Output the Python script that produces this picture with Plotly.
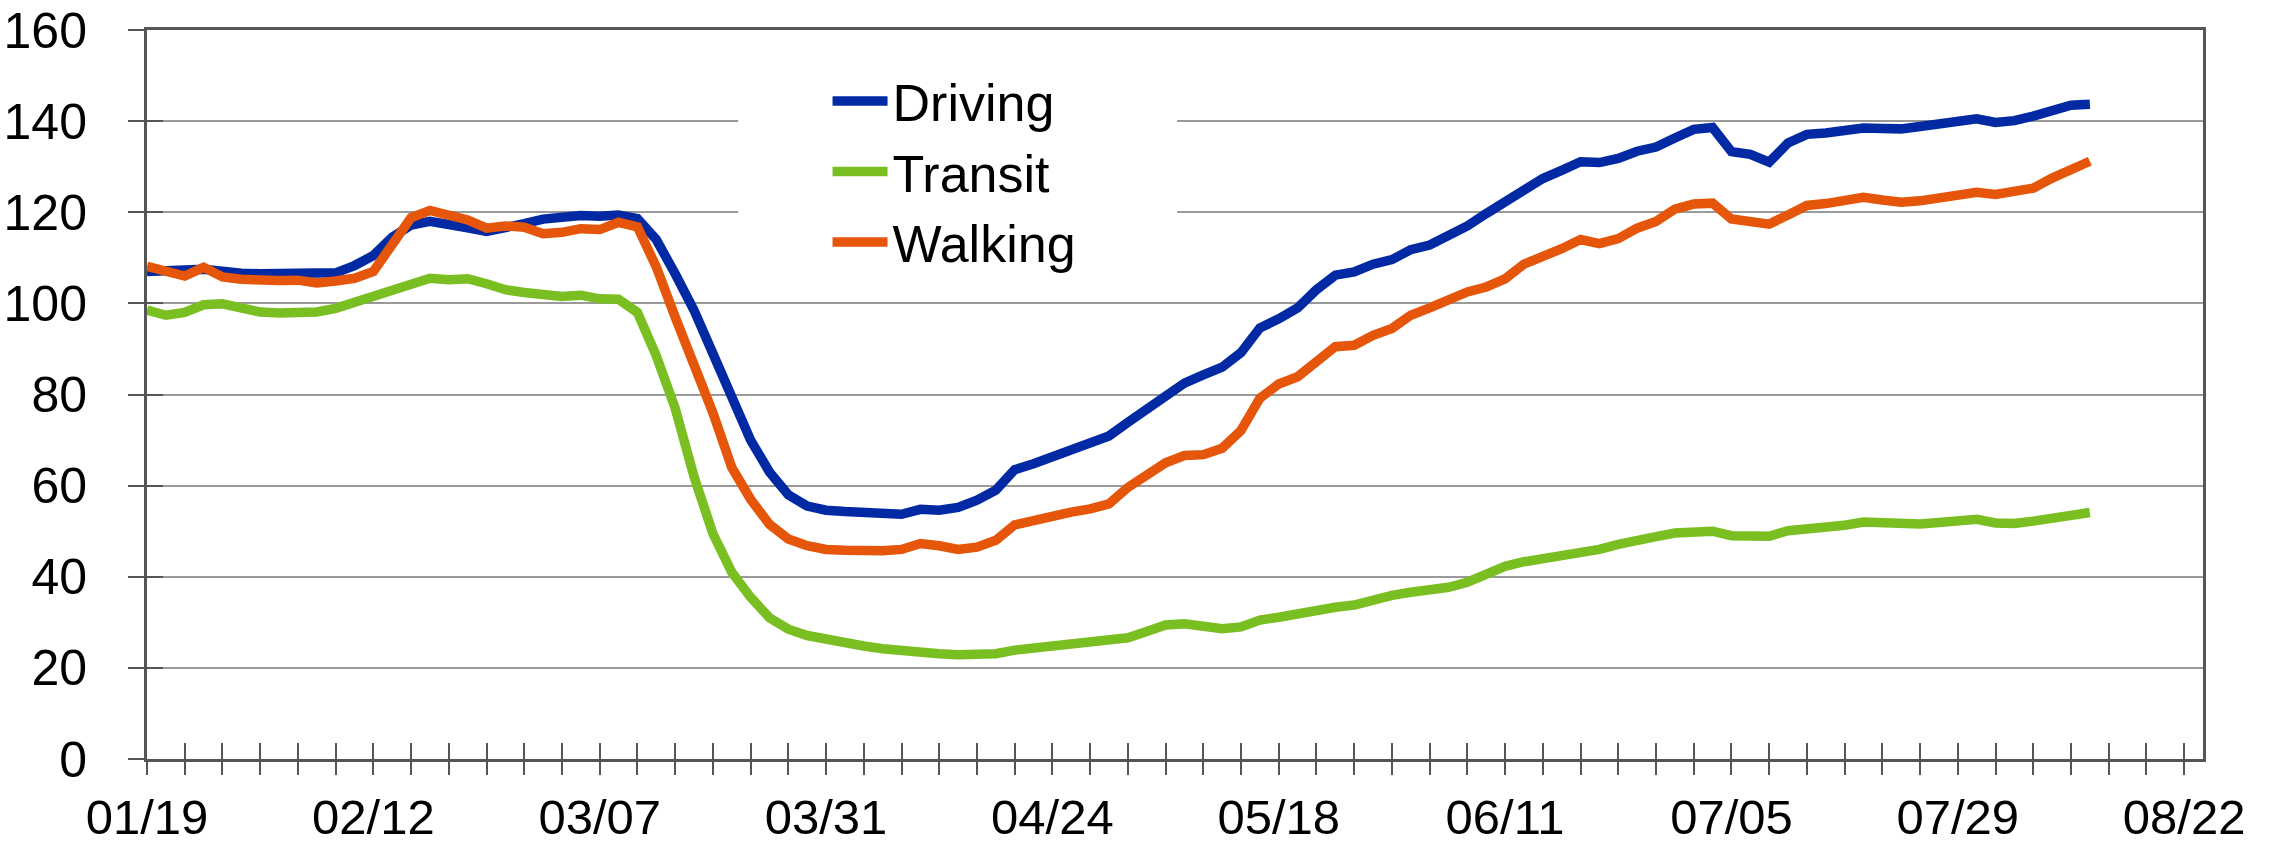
import pandas as pd
import plotly.graph_objects as go

# Every second day from 2020-01-19 to 2020-08-12 (104 readings)
start_date = "2020-01-19"
step = "2D"

driving = [
    107.0, 107.4, 107.3, 107.5, 106.8, 106.6, 106.5, 106.6, 106.6, 106.3,
    106.7, 108.3, 110.5, 114.5, 117.2, 118.0, 117.5, 116.6, 115.8, 116.5,
    117.5, 118.5, 119.0, 119.3, 119.1, 119.4, 118.6, 114.0, 106.5, 98.5,
    89.0, 79.5, 70.0, 63.0, 58.0, 55.5, 54.6, 54.3, 54.0, 53.6,
    53.7, 54.8, 54.6, 55.2, 56.8, 59.0, 63.5, 64.8, 66.3, 67.9,
    69.2, 70.9, 73.9, 76.9, 79.8, 82.5, 84.3, 86.0, 89.2, 94.6,
    96.6, 99.0, 103.0, 106.2, 106.9, 108.6, 109.6, 111.8, 112.8, 114.7,
    117.0, 119.7, 122.3, 125.1, 127.4, 129.2, 131.1, 130.9, 131.8, 133.4,
    134.3, 136.3, 138.2, 138.6, 133.3, 132.7, 131.0, 135.2, 137.1, 137.4,
    138.0, 138.5, 138.4, 138.3, 138.8, 139.3, 140.0, 140.5, 139.7, 140.1,
    141.1, 142.4, 143.5, 143.7,
]

transit = [
    98.5, 97.4, 98.0, 99.7, 99.9, 99.0, 98.1, 97.9, 98.0, 98.1,
    98.9, 100.2, 101.3, 103.1, 104.2, 105.5, 105.2, 105.4, 104.3, 103.0,
    102.4, 101.8, 101.5, 101.8, 101.0, 100.9, 98.0, 88.5, 77.0, 62.0,
    49.5, 41.0, 35.5, 31.0, 28.5, 27.1, 26.2, 25.5, 24.8, 24.2,
    23.7, 23.4, 23.1, 22.9, 22.9, 23.1, 23.9, 24.3, 24.7, 25.0,
    25.4, 25.9, 26.6, 28.0, 29.4, 29.7, 29.0, 28.6, 29.0, 30.5,
    31.1, 31.9, 32.9, 33.3, 33.8, 35.1, 35.9, 36.6, 37.1, 37.7,
    38.8, 40.5, 42.3, 43.3, 43.9, 44.5, 45.6, 46.0, 47.1, 48.2,
    48.8, 49.6, 50.0, 50.0, 49.0, 48.9, 48.9, 50.1, 50.4, 50.6,
    51.3, 52.0, 51.7, 51.4, 51.6, 51.9, 52.3, 52.6, 51.8, 51.7,
    52.2, 52.8, 53.8, 54.1,
]

walking = [
    108.1, 106.8, 106.0, 107.9, 105.8, 105.3, 105.0, 105.0, 105.1, 104.5,
    104.9, 105.5, 107.0, 112.5, 118.8, 120.4, 119.5, 118.3, 116.5, 117.0,
    116.7, 115.3, 115.6, 116.4, 116.2, 117.8, 116.8, 108.0, 97.0, 87.0,
    76.0, 64.0, 57.0, 51.5, 48.3, 46.8, 46.0, 45.8, 45.6, 45.7,
    46.0, 47.3, 46.8, 46.0, 46.5, 48.0, 51.4, 52.4, 53.5, 54.2,
    54.9, 56.0, 59.6, 62.6, 65.0, 66.6, 66.8, 68.2, 72.1, 79.2,
    82.3, 83.9, 87.2, 90.5, 90.8, 93.0, 94.5, 97.4, 99.0, 100.7,
    102.5, 103.6, 105.4, 108.6, 110.2, 112.0, 114.0, 113.1, 114.2, 116.5,
    118.0, 120.7, 121.8, 122.0, 118.5, 118.0, 117.4, 119.4, 121.5, 121.9,
    122.6, 123.3, 122.7, 122.2, 122.5, 123.0, 123.8, 124.4, 123.9, 124.6,
    125.3, 127.5, 129.4, 131.2,
]

series_names = ["Driving", "Transit", "Walking"]
series_colors = ["#0029A3", "#7ABF22", "#E5550A"]

x_range = ["2020-01-19", "2020-08-24"]
x_tick0 = "2020-01-19"
y_ticks = [0, 20, 40, 60, 80, 100, 120, 140, 160]

dates = pd.date_range(start_date, periods=len(driving), freq=step)

fig = go.Figure()
for name, vals, col in zip(series_names, [driving, transit, walking], series_colors):
    # Transit sits on the overlaid twin axes, which only add the inner half of the ticks
    on_twin = name == "Transit"
    fig.add_trace(go.Scatter(
        x=dates, y=vals, name=name, mode="lines",
        line=dict(color=col, width=9.5),
        xaxis="x2" if on_twin else "x", yaxis="y2" if on_twin else "y",
    ))

DAY = 86400000
AX = "#555555"

# white panel behind the legend, hiding the gridlines there
fig.add_shape(type="rect", xref="paper", yref="y",
              x0=0.2875, x1=0.501, y0=104, y1=158,
              fillcolor="white", line_width=0, layer="above")

fig.update_layout(
    width=2279, height=846,
    margin=dict(l=147, r=76, t=30, b=87, autoexpand=False),
    paper_bgcolor="white", plot_bgcolor="white",
    font=dict(family="Liberation Sans, Arial, sans-serif", color="black"),
    showlegend=True,
    legend=dict(
        x=0.331, y=0.958, xanchor="left", yanchor="top",
        bgcolor="rgba(0,0,0,0)", borderwidth=0,
        font=dict(size=52, color="black"),
        itemwidth=55, tracegroupgap=0, traceorder="normal",
    ),
    xaxis=dict(
        type="date", range=x_range, automargin=False,
        tick0=x_tick0, dtick=24 * DAY, tickformat="%m/%d",
        ticks="outside", ticklen=13, tickwidth=2, tickcolor=AX,
        minor=dict(tick0=x_tick0, dtick=4 * DAY, ticks="outside",
                   ticklen=13, tickwidth=2, tickcolor=AX, showgrid=False),
        showgrid=False, showline=True, linecolor=AX, linewidth=3,
        mirror=True, zeroline=False, tickfont=dict(size=49),
        ticklabelstandoff=0,
    ),
    yaxis=dict(
        range=[0, 160], tickvals=y_ticks, automargin=False,
        ticks="outside", ticklen=16, tickwidth=2, tickcolor=AX,
        showgrid=True, gridcolor="#9A9A9A", gridwidth=2,
        showline=True, linecolor=AX, linewidth=3, mirror=True,
        zeroline=False, tickfont=dict(size=50), ticklabelstandoff=31,
    ),
    xaxis2=dict(
        overlaying="x", matches="x", type="date", automargin=False,
        tick0=x_tick0, dtick=4 * DAY, ticks="inside", ticklen=16,
        tickwidth=2, tickcolor=AX, showticklabels=False, showgrid=False,
        showline=False, zeroline=False, side="bottom", anchor="y2",
    ),
    yaxis2=dict(
        overlaying="y", matches="y", tickvals=y_ticks, automargin=False,
        ticks="inside", ticklen=16, tickwidth=2, tickcolor=AX,
        showticklabels=False, showgrid=False, showline=False,
        zeroline=False, side="left", anchor="x2",
    ),
)

fig.write_html("out.html", config={"displayModeBar": False},
               post_script="document.body.style.margin='0';")
